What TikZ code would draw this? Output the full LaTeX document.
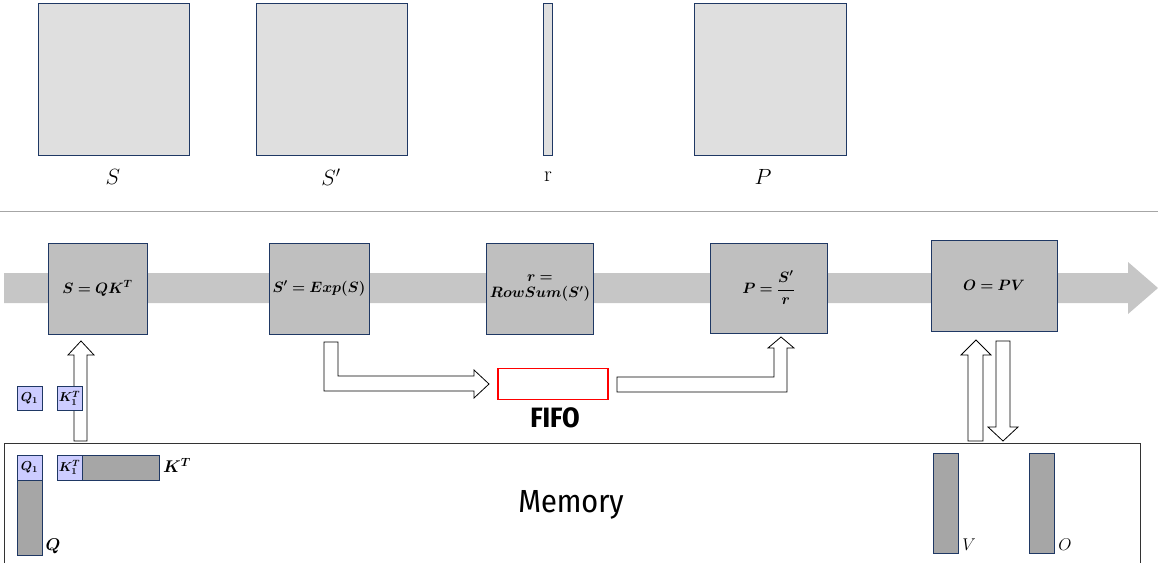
\documentclass[tikz,border=0pt]{standalone}
\usepackage{fix-cm}
\usepackage{amsmath,bm}
\usepackage{fontspec}
\newfontfamily\memfont{Fira Sans Condensed}
\definecolor{edge}{HTML}{1F3864}
\begin{document}
\begin{tikzpicture}[x=1pt,y=-1pt,
 mat/.style={draw=edge,fill=gray!25,line width=0.8pt},
 op/.style={draw=edge,fill=gray!50,line width=1pt,align=center,font=\fontsize{15}{18}\selectfont},
 blk/.style={draw=black,fill=white,line width=0.8pt},
 lb/.style={draw=edge,fill=blue!20,line width=0.8pt,inner sep=0,font=\fontsize{13}{14}\selectfont},
 gc/.style={draw=edge,fill=gray!70,line width=0.8pt},
 mlab/.style={font=\fontsize{22}{24}\selectfont},
 slab/.style={font=\fontsize{17}{18}\selectfont}]
\useasboundingbox (0,0) rectangle (1158,562);
% top matrices
\draw[mat] (38,3) rectangle (189,155);
\draw[mat] (256,3) rectangle (407,155);
\draw[mat] (543,3) rectangle (552,155);
\draw[mat] (694,3) rectangle (846,155);
\node[mlab] (lS) at (113,177) {$S$};
\node[mlab] (lS2) at (331,177) {$S'$};
\node[mlab] (lr) at (548,177) {r};
\node[mlab] (lP) at (763,177) {$P$};
\draw[gray!70,line width=1pt] (0,211) -- (1158,211);
% pipeline arrow
\fill[gray!45] (4,273) -- (1128,273) -- (1128,262) -- (1158,288) -- (1128,314) -- (1128,303) -- (4,303) -- cycle;
% op boxes
\node[op,minimum width=99,minimum height=91] (b1) at (97.5,288.5) {$\bm{S = QK^T}$};
\node[op,minimum width=100,minimum height=91] (b2) at (319,288.5) {$\bm{S' = Exp(S)}$};
\node[op,minimum width=100,minimum height=91] (b3) at (540,288.5) {$\bm{r =}$\\[-2pt]$\bm{RowSum(S')}$};
\node[op,minimum width=117,minimum height=90] (b4) at (768.5,288) {$\bm{P = \dfrac{S'}{r}}$};
\node[op,minimum width=126,minimum height=91] (b5) at (994,285.5) {$\bm{O = PV}$};
% FIFO
\node[draw=red,line width=1.5pt,minimum width=110,minimum height=31,inner sep=0] (fifo) at (553,384) {};
\node[font=\memfont\bfseries\fontsize{28}{30}\selectfont] (fl) at (555,418) {FIFO};
% block arrows
\draw[blk] (74,441) -- (74,355) -- (68,355) -- (81,341) -- (94,355) -- (87,355) -- (87,441) -- cycle;
\draw[blk] (324,342) -- (338,342) -- (338,376) -- (474,376) -- (474,370) -- (489,384) -- (474,398) -- (474,391) -- (324,391) -- cycle;
\draw[blk] (617,377) -- (774,377) -- (774,348) -- (768,348) -- (781,337) -- (794,348) -- (787,348) -- (787,392) -- (617,392) -- cycle;
\draw[blk] (968,441) -- (968,355) -- (961,355) -- (976,340) -- (991,355) -- (983,355) -- (983,441) -- cycle;
\draw[blk] (996,341) -- (1010,341) -- (1010,427) -- (1018,427) -- (1003,441) -- (988,427) -- (996,427) -- cycle;
% memory
\draw[black!80,line width=1pt] (4,443) rectangle (1140,570);
\node[font=\memfont\fontsize{32}{34}\selectfont] (mem) at (571,505) {Memory};
\node[lb,minimum width=25,minimum height=24] (q1a) at (29.5,398) {$\bm{Q_1}$};
\node[lb,minimum width=25,minimum height=24] (k1a) at (69.5,398) {$\bm{K_1^T}$};
\draw[gc] (17,480) rectangle (42,555);
\node[lb,minimum width=25,minimum height=25] (q1b) at (29.5,467.5) {$\bm{Q_1}$};
\draw[gc] (82,455) rectangle (159,480);
\node[lb,minimum width=25,minimum height=25] (k1b) at (69.5,467.5) {$\bm{K_1^T}$};
\node[slab] (lq) at (53,546) {$\bm{Q}$};
\node[slab] (lk) at (177,465) {$\bm{K^T}$};
\draw[gc] (933,453) rectangle (958,553);
\draw[gc] (1029,453) rectangle (1054,553);
\node[slab] (lv) at (969,545) {$V$};
\node[slab] (lo) at (1065,545) {$O$};
\end{tikzpicture}
\end{document}
